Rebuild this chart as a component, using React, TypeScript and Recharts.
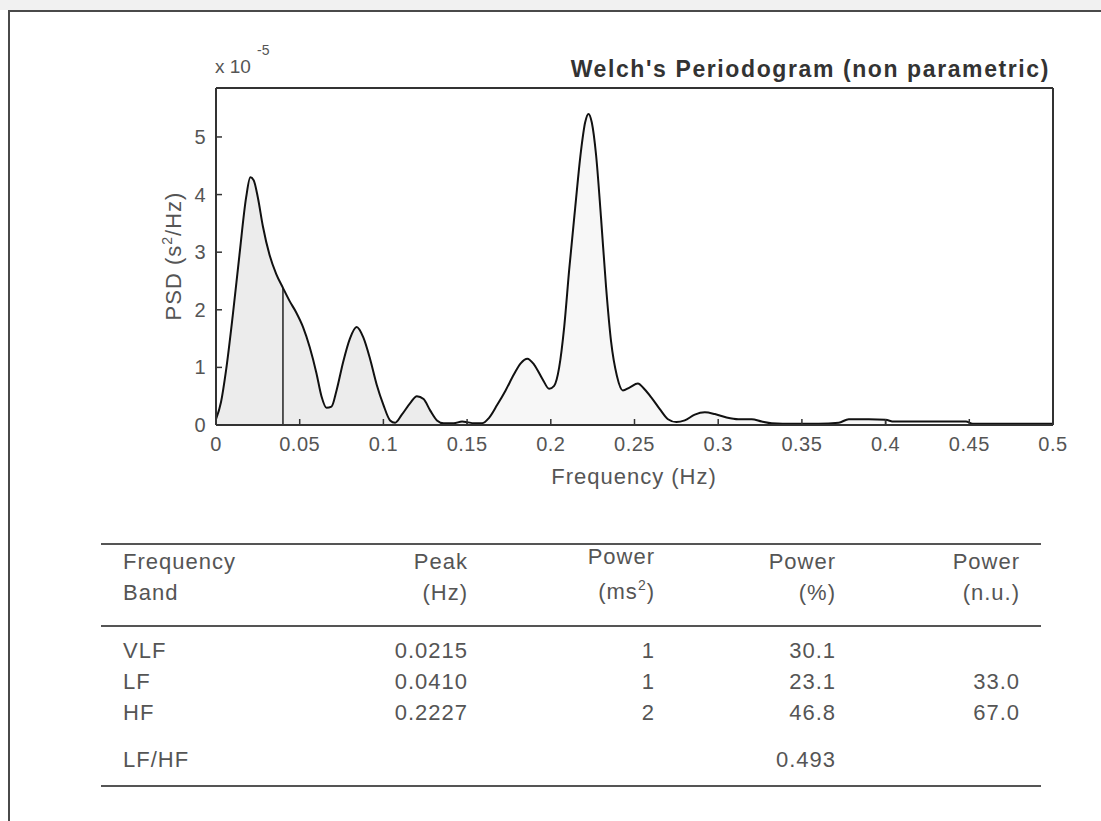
import React from "react";
import { ComposedChart, Area, Line, XAxis, YAxis, ReferenceLine } from "recharts";

// Welch PSD, values in units of 1e-5 s^2/Hz
const FREQ = [
  0.0, 0.003, 0.006, 0.01, 0.014, 0.018, 0.0205, 0.0225, 0.025, 0.028,
  0.032, 0.036, 0.04, 0.044, 0.048, 0.052, 0.056, 0.06, 0.063, 0.066,
  0.069, 0.072, 0.076, 0.08, 0.084, 0.088, 0.092, 0.096, 0.1, 0.104,
  0.107, 0.111, 0.116, 0.12, 0.124, 0.128, 0.132, 0.136, 0.142, 0.147,
  0.15, 0.154, 0.159, 0.163, 0.168, 0.173, 0.178, 0.182, 0.186, 0.19,
  0.195, 0.199, 0.202, 0.205, 0.208, 0.211, 0.2145, 0.218, 0.2205, 0.2225,
  0.2245, 0.227, 0.23, 0.233, 0.236, 0.2395, 0.243, 0.247, 0.252, 0.256,
  0.26, 0.265, 0.27, 0.275, 0.28, 0.286, 0.292, 0.298, 0.305, 0.312,
  0.32, 0.326, 0.332, 0.345, 0.36, 0.372, 0.378, 0.39, 0.4, 0.405,
  0.43, 0.448, 0.452, 0.5,
];
const PSD = [
  0.1, 0.4, 0.95, 1.9, 2.95, 3.95, 4.3, 4.25, 3.95, 3.45,
  2.95, 2.62, 2.38, 2.15, 1.95, 1.7, 1.35, 0.9, 0.5, 0.3,
  0.32, 0.6, 1.1, 1.5, 1.7, 1.52, 1.15, 0.7, 0.35, 0.08,
  0.04, 0.18, 0.38, 0.5, 0.45, 0.25, 0.08, 0.03, 0.03, 0.06,
  0.05, 0.03, 0.03, 0.12, 0.35, 0.6, 0.88, 1.07, 1.15, 1.05,
  0.8, 0.63, 0.68, 1.0, 1.7, 2.7, 3.75, 4.75, 5.25, 5.4,
  5.25, 4.7, 3.6, 2.4, 1.45, 0.85, 0.6, 0.65, 0.72, 0.62,
  0.48, 0.28, 0.1, 0.05, 0.08, 0.18, 0.22, 0.19, 0.13, 0.1,
  0.1, 0.06, 0.03, 0.02, 0.02, 0.04, 0.1, 0.1, 0.09, 0.06,
  0.06, 0.06, 0.02, 0.02,
];

const X_TICKS = [0, 0.05, 0.1, 0.15, 0.2, 0.25, 0.3, 0.35, 0.4, 0.45, 0.5];
const Y_TICKS = [0, 1, 2, 3, 4, 5];
const Y_MAX = 5.85;
const BAND_EDGES = [0.04, 0.15, 0.4];

// table
const BANDS = ["VLF", "LF", "HF"];
const PEAK_HZ = ["0.0215", "0.0410", "0.2227"];
const POWER_MS2 = ["1", "1", "2"];
const POWER_PCT = ["30.1", "23.1", "46.8"];
const POWER_NU = ["", "33.0", "67.0"];
const LF_HF = "0.493";

const rows = FREQ.map((f, i) => ({
  f,
  psd: PSD[i],
  vlf: f <= 0.04 ? PSD[i] : null,
  lf: f >= 0.04 && f <= 0.15 ? PSD[i] : null,
  hf: f >= 0.15 && f <= 0.4 ? PSD[i] : null,
}));

const psdAt = (f: number) => PSD[FREQ.indexOf(f)] ?? 0;

const FONT = "'Liberation Sans', Arial, Helvetica, sans-serif";
const TICK = { fontSize: 20, fill: "#555", fontFamily: FONT, letterSpacing: 0.5 };
const AX = { stroke: "#333", strokeWidth: 2 };
const TL = { stroke: "#333", strokeWidth: 1.5 };

export default function App() {
  const tableCols = [468, 655, 836, 1020];
  const bodyY = [658, 689, 720];
  const txt = { fontSize: 22, fill: "#555", fontFamily: FONT, letterSpacing: 1 };

  return (
    <div style={{ position: "absolute", left: 0, top: 0, width: 1101, height: 821, background: "#fff", overflow: "hidden" }}>
      <div style={{ position: "absolute", left: 0, top: 0, width: 1101, height: 10, background: "#f1f1f1" }} />
      <div
        style={{
          position: "absolute", left: 8, top: 10, width: 1101, height: 821,
          borderTop: "2px solid #4a4a4a", borderLeft: "2px solid #4a4a4a",
        }}
      />
      <div style={{ position: "absolute", left: 0, top: 0 }}>
        <ComposedChart width={1101} height={500} data={rows} margin={{ top: 87, right: 47, left: 0, bottom: 15 }}>
          <XAxis
            xAxisId="b" type="number" dataKey="f" domain={[0, 0.5]} ticks={X_TICKS}
            allowDataOverflow height={60} tickSize={-6} tickMargin={18}
            tick={TICK} axisLine={AX} tickLine={TL}
            tickFormatter={(v) => String(v)}
          />
          <XAxis
            xAxisId="t" orientation="top" type="number" dataKey="f" domain={[0, 0.5]} ticks={X_TICKS}
            allowDataOverflow height={1} tickSize={-6} tick={false}
            axisLine={AX} tickLine={TL}
          />
          <YAxis
            yAxisId="l" type="number" domain={[0, Y_MAX]} ticks={Y_TICKS} allowDataOverflow
            width={216} tickSize={-6} tickMargin={16} tick={TICK}
            axisLine={AX} tickLine={TL}
          />
          <YAxis
            yAxisId="r" orientation="right" type="number" domain={[0, Y_MAX]} ticks={Y_TICKS}
            allowDataOverflow width={1} tickSize={-6} tick={false}
            axisLine={AX} tickLine={TL}
          />
          <Area xAxisId="b" yAxisId="l" type="monotone" dataKey="vlf" stroke="none" fill="#ececec" fillOpacity={1} isAnimationActive={false} />
          <Area xAxisId="b" yAxisId="l" type="monotone" dataKey="lf" stroke="none" fill="#ececec" fillOpacity={1} isAnimationActive={false} />
          <Area xAxisId="b" yAxisId="l" type="monotone" dataKey="hf" stroke="none" fill="#f7f7f7" fillOpacity={1} isAnimationActive={false} />
          {BAND_EDGES.map((e) => (
            <ReferenceLine
              key={e} xAxisId="b" yAxisId="l"
              segment={[{ x: e, y: 0 }, { x: e, y: psdAt(e) }]}
              stroke="#222" strokeWidth={1.5}
            />
          ))}
          <Line
            xAxisId="t" yAxisId="r" type="monotone" dataKey="psd" stroke="#111" strokeWidth={2}
            dot={false} activeDot={false} isAnimationActive={false}
          />
        </ComposedChart>
      </div>

      <svg width={1101} height={821} style={{ position: "absolute", left: 0, top: 0, pointerEvents: "none" }}>
        {/* title and exponent */}
        <text x={1050} y={77} textAnchor="end" fontSize={23} fontWeight="bold" fill="#333" fontFamily={FONT} letterSpacing={1.6}>
          Welch's Periodogram (non parametric)
        </text>
        <text x={215} y={73} fontSize={19} fill="#555" fontFamily={FONT}>x 10</text>
        <text x={257} y={55} fontSize={14} fill="#555" fontFamily={FONT}>-5</text>

        {/* axis labels */}
        <text x={634} y={484} textAnchor="middle" {...txt}>Frequency (Hz)</text>
        <text transform="rotate(-90, 181, 256)" x={181} y={256} textAnchor="middle" {...txt}>
          PSD (s<tspan dy={-9} fontSize={14}>2</tspan><tspan dy={9}>/Hz)</tspan>
        </text>

        {/* table */}
        <line x1={101} x2={1041} y1={544} y2={544} stroke="#555" strokeWidth={2} />
        <line x1={101} x2={1041} y1={626} y2={626} stroke="#555" strokeWidth={2} />
        <line x1={101} x2={1041} y1={786} y2={786} stroke="#555" strokeWidth={2} />

        <text x={123} y={569} {...txt}>Frequency</text>
        <text x={123} y={600} {...txt}>Band</text>
        <text x={tableCols[0]} y={569} textAnchor="end" {...txt}>Peak</text>
        <text x={tableCols[0]} y={600} textAnchor="end" {...txt}>(Hz)</text>
        <text x={tableCols[1]} y={564} textAnchor="end" {...txt}>Power</text>
        <text x={tableCols[1]} y={599} textAnchor="end" {...txt}>
          (ms<tspan dy={-9} fontSize={14}>2</tspan><tspan dy={9}>)</tspan>
        </text>
        <text x={tableCols[2]} y={569} textAnchor="end" {...txt}>Power</text>
        <text x={tableCols[2]} y={600} textAnchor="end" {...txt}>(%)</text>
        <text x={tableCols[3]} y={569} textAnchor="end" {...txt}>Power</text>
        <text x={tableCols[3]} y={600} textAnchor="end" {...txt}>(n.u.)</text>

        {BANDS.map((b, i) => (
          <g key={b}>
            <text x={123} y={bodyY[i]} {...txt}>{b}</text>
            <text x={tableCols[0]} y={bodyY[i]} textAnchor="end" {...txt}>{PEAK_HZ[i]}</text>
            <text x={tableCols[1]} y={bodyY[i]} textAnchor="end" {...txt}>{POWER_MS2[i]}</text>
            <text x={tableCols[2]} y={bodyY[i]} textAnchor="end" {...txt}>{POWER_PCT[i]}</text>
            <text x={tableCols[3]} y={bodyY[i]} textAnchor="end" {...txt}>{POWER_NU[i]}</text>
          </g>
        ))}
        <text x={123} y={767} {...txt}>LF/HF</text>
        <text x={tableCols[2]} y={767} textAnchor="end" {...txt}>{LF_HF}</text>
      </svg>
    </div>
  );
}
